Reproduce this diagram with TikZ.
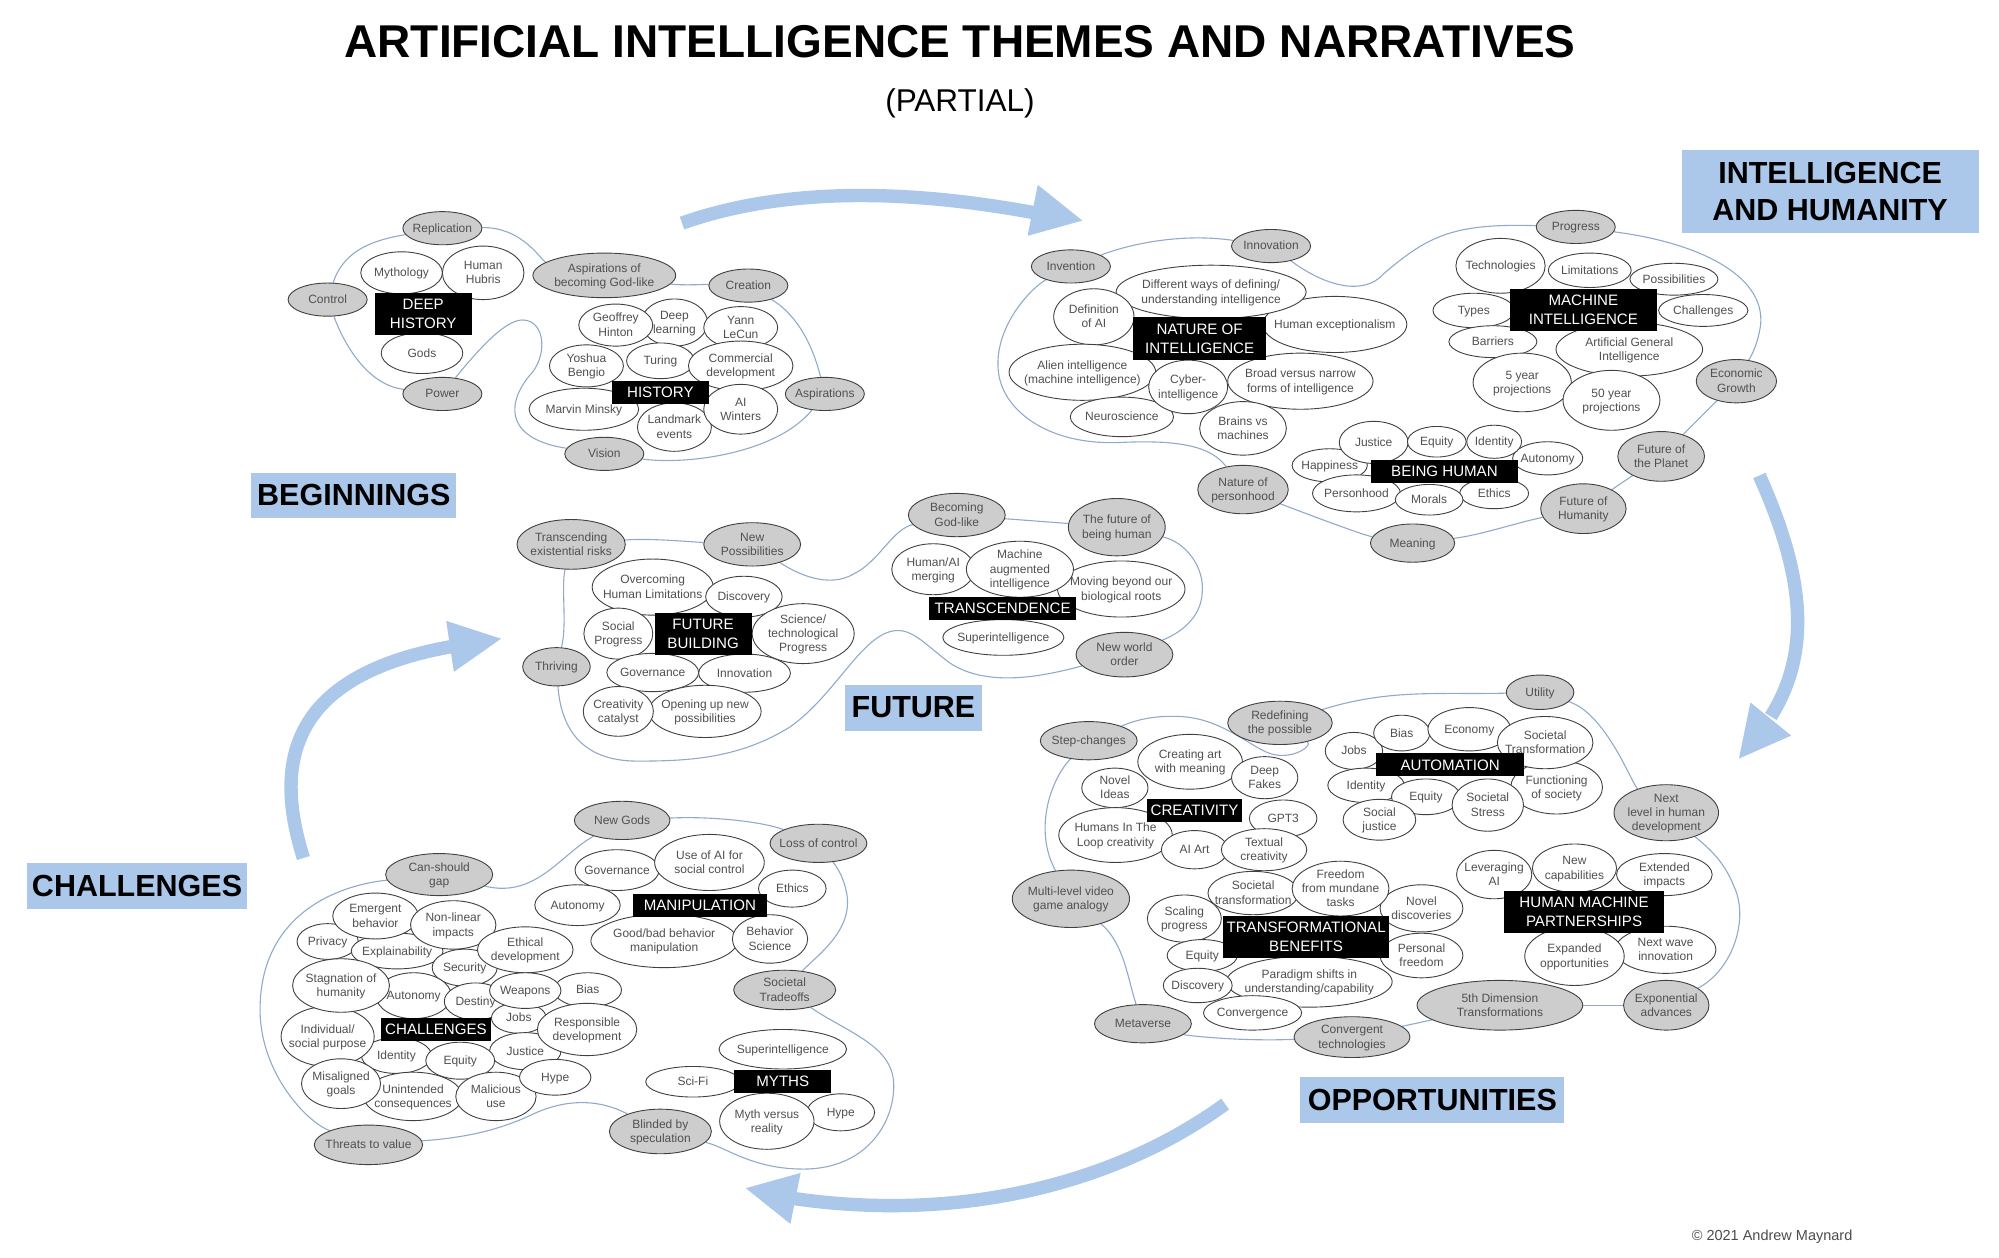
\documentclass[tikz,border=0pt]{standalone}
\usepackage{fontspec}
\setmainfont{Liberation Sans}
\usetikzlibrary{shapes.geometric,backgrounds}

\definecolor{bandblue}{HTML}{ABC7E9}
\definecolor{lineblue}{HTML}{8FAACB}
\definecolor{bubgray}{HTML}{CDCDCD}
\definecolor{txtgray}{HTML}{505050}

\newcommand{\tx}[1]{\makebox[0pt]{\raisebox{-.34em}[0pt][0pt]{\begin{tabular}{@{}c@{}}#1\end{tabular}}}}

\tikzset{
    topic/.style 2 args={ellipse,draw=black!75,fill=white,line width=0.9pt,inner sep=0pt,text=txtgray,
        minimum width=#1*1.275pt,minimum height=#2*1.275pt,font=\fontsize{12}{14.3}\selectfont},
    theme/.style 2 args={topic={#1}{#2},fill=bubgray},
    head/.style 2 args={rectangle,fill=black,text=white,inner sep=0pt,align=center,
        minimum width=#1*1.275pt,minimum height=#2*1.275pt,font=\fontsize{15.1}{19}\selectfont},
    band/.style 2 args={rectangle,fill=bandblue,text=black,inner sep=0pt,align=center,
        minimum width=#1*1.275pt,minimum height=#2*1.275pt,font=\fontsize{30.5}{37}\selectfont\bfseries},
    blob/.style={draw=lineblue,line width=1.1pt},
    bigarrow/.style={draw=bandblue,line width=13.4pt},
    bighead/.style={fill=bandblue}
}

\begin{document}
\begin{tikzpicture}[x=1.275pt,y=-1.275pt]
    \useasboundingbox (0,0) rectangle (1568,986);

    \node[font=\fontsize{46}{54}\selectfont\bfseries] (title) at (753,33) {ARTIFICIAL INTELLIGENCE THEMES AND NARRATIVES};
    \node[font=\fontsize{31.5}{36}\selectfont] (partial) at (753,81) {(PARTIAL)};
    \node[text=black!70,font=\fontsize{14.5}{17}\selectfont] (copyright) at (1390,970) {© 2021 Andrew Maynard};

    \draw[bigarrow] (535,175) .. controls (620,145) and (720,150) .. (812,167);
    \fill[bighead] (849,173) -- (814,145) -- (806,185) -- cycle;
    \draw[bigarrow] (1380,373) .. controls (1410,440) and (1425,505) .. (1389,562);
    \fill[bighead] (1364,595) -- (1373,551) -- (1405,577) -- cycle;
    \draw[bigarrow] (961,866) .. controls (880,925) and (760,960) .. (622,940);
    \fill[bighead] (585,932) -- (628,920) -- (620,960) -- cycle;
    \draw[bigarrow] (238,673) .. controls (215,600) and (225,530) .. (355,507);
    \fill[bighead] (393,501) -- (350,487) -- (356,527) -- cycle;

    \node[band={161}{35}] (beginnings) at (277.5,388.5) {BEGINNINGS};
    \node[band={233}{65}] (humanity) at (1435.5,150.5) {INTELLIGENCE\\AND HUMANITY};
    \node[band={107}{36}] (future) at (716.5,555) {FUTURE};
    \node[band={207}{36}] (opportunities) at (1123.5,863) {OPPORTUNITIES};
    \node[band={173}{36}] (challenges) at (107.5,695) {CHALLENGES};

    \node[theme={62}{26}] (replication) at (347,179) {\tx{Replication}};
    \node[theme={62}{26}] (control) at (257,235) {\tx{Control}};
    \node[theme={62}{26}] (power) at (347,309) {\tx{Power}};
    \node[theme={112}{35}] (godlike) at (474,216) {\tx{Aspirations of\\becoming God-like}};
    \node[theme={62}{26}] (creation) at (587,224) {\tx{Creation}};
    \node[theme={62}{26}] (aspirations) at (647,309) {\tx{Aspirations}};
    \node[theme={62}{26}] (vision) at (474,356) {\tx{Vision}};
    \node[topic={64}{33}] (mythology) at (315,214) {\tx{Mythology}};
    \node[topic={64}{42}] (hubris) at (379,214) {\tx{Human\\Hubris}};
    \node[topic={64}{32}] (gods) at (331,277) {\tx{Gods}};
    \node[topic={52}{37}] (deeplearning) at (529,253) {\tx{Deep\\learning}};
    \node[topic={58}{33}] (hinton) at (483,255) {\tx{Geoffrey\\Hinton}};
    \node[topic={58}{33}] (lecun) at (581,257) {\tx{Yann\\LeCun}};
    \node[topic={53}{28}] (turing) at (518,283) {\tx{Turing}};
    \node[topic={58}{33}] (bengio) at (460,287) {\tx{Yoshua\\Bengio}};
    \node[topic={82}{39}] (commercial) at (581,287) {\tx{Commercial\\development}};
    \node[topic={86}{33}] (minsky) at (458,321) {\tx{Marvin Minsky}};
    \node[topic={58}{38}] (landmark) at (529,335) {\tx{Landmark\\events}};
    \node[topic={58}{39}] (winters) at (581,321) {\tx{AI\\Winters}};
    \node[head={76}{33}] (deephistory) at (332,246) {DEEP\\HISTORY};
    \node[head={76}{18}] (history) at (518,308) {HISTORY};

    \node[theme={62}{26}] (invention) at (840,209) {\tx{Invention}};
    \node[theme={62}{26}] (innovationa) at (997,193) {\tx{Innovation}};
    \node[theme={71}{38}] (personhood) at (975,384) {\tx{Nature of\\personhood}};
    \node[topic={113}{44}] (exceptionalism) at (1047,254.5) {\tx{Human exceptionalism}};
    \node[topic={149}{42}] (waysdefining) at (950,229) {\tx{Different ways of defining/\\understanding intelligence}};
    \node[topic={63}{44}] (definition) at (858,248.5) {\tx{Definition\\of AI}};
    \node[topic={115}{44}] (alien) at (849,292) {\tx{Alien intelligence\\(machine intelligence)}};
    \node[topic={81}{31}] (neuroscience) at (880,327) {\tx{Neuroscience}};
    \node[topic={62}{42}] (cyber) at (932,303.5) {\tx{Cyber-\\intelligence}};
    \node[topic={114}{44}] (broad) at (1020,299) {\tx{Broad versus narrow\\forms of intelligence}};
    \node[topic={68}{42}] (brains) at (975,336) {\tx{Brains vs\\machines}};
    \node[head={104}{33}] (nature) at (941,265.5) {NATURE OF\\INTELLIGENCE};

    \node[theme={62}{26}] (progress) at (1236,178) {\tx{Progress}};
    \node[theme={63}{34}] (economic) at (1362,299) {\tx{Economic\\Growth}};
    \node[theme={68}{39}] (planet) at (1303,358) {\tx{Future of\\the Planet}};
    \node[theme={67}{39}] (futurehumanity) at (1242,399) {\tx{Future of\\Humanity}};
    \node[theme={66}{30}] (meaning) at (1108,426) {\tx{Meaning}};
    \node[topic={70}{43}] (technologies) at (1177,208.5) {\tx{Technologies}};
    \node[topic={69}{25}] (possibilities) at (1313,219) {\tx{Possibilities}};
    \node[topic={65}{27}] (limitations) at (1247,212) {\tx{Limitations}};
    \node[topic={64}{27}] (types) at (1156,243.5) {\tx{Types}};
    \node[topic={70}{25}] (mchallenges) at (1336,243.5) {\tx{Challenges}};
    \node[topic={115}{42}] (agi) at (1278,274) {\tx{Artificial General\\Intelligence}};
    \node[topic={69}{25}] (barriers) at (1171,268) {\tx{Barriers}};
    \node[topic={77}{46}] (fiveyear) at (1194,300) {\tx{5 year\\projections}};
    \node[topic={76}{47}] (fiftyyear) at (1264,314) {\tx{50 year\\projections}};
    \node[head={115}{33}] (machine) at (1242,243) {MACHINE\\INTELLIGENCE};

    \node[topic={55}{26}] (autonomya) at (1214,359.5) {\tx{Autonomy}};
    \node[topic={59}{26}] (happiness) at (1043,365) {\tx{Happiness}};
    \node[topic={54}{33}] (justicea) at (1077.5,347) {\tx{Justice}};
    \node[topic={46}{24}] (equitya) at (1127,346.5) {\tx{Equity}};
    \node[topic={43}{26}] (identitya) at (1172,346.5) {\tx{Identity}};
    \node[topic={69}{29}] (personhooda) at (1064,387) {\tx{Personhood}};
    \node[topic={54}{24}] (ethicsa) at (1172,387) {\tx{Ethics}};
    \node[topic={53}{24}] (morals) at (1121,392) {\tx{Morals}};
    \node[head={115}{18}] (beinghuman) at (1133,369.5) {BEING HUMAN};

    \node[theme={85}{39}] (transcending) at (448,427) {\tx{Transcending\\existential risks}};
    \node[theme={76}{34}] (newposs) at (590,427) {\tx{New\\Possibilities}};
    \node[theme={53}{30}] (thriving) at (436.5,523) {\tx{Thriving}};
    \node[theme={76}{34}] (becoming) at (750.5,404) {\tx{Becoming\\God-like}};
    \node[theme={76}{45}] (futurehuman) at (876,413.5) {\tx{The future of\\being human}};
    \node[theme={76}{35}] (newworld) at (882,513.5) {\tx{New world\\order}};
    \node[topic={95}{44}] (overcoming) at (512,460.5) {\tx{Overcoming\\Human Limitations}};
    \node[topic={60}{32}] (discovery) at (583.5,468) {\tx{Discovery}};
    \node[topic={54}{40}] (social) at (485,497) {\tx{Social\\Progress}};
    \node[topic={80}{47}] (science) at (630,497) {\tx{Science/\\technological\\Progress}};
    \node[topic={72}{30}] (governancea) at (512,527.5) {\tx{Governance}};
    \node[topic={72}{30}] (innovationb) at (584,528) {\tx{Innovation}};
    \node[topic={88}{41}] (opening) at (553,558) {\tx{Opening up new\\possibilities}};
    \node[topic={55}{39}] (catalyst) at (485,558) {\tx{Creativity\\catalyst}};
    \node[head={76}{33}] (futurebuilding) at (551.5,497) {FUTURE\\BUILDING};
    \node[topic={100}{44}] (moving) at (879.5,462) {\tx{Moving beyond our\\biological roots}};
    \node[topic={65}{40}] (merging) at (732,446.5) {\tx{Human/AI\\merging}};
    \node[topic={84}{44}] (augmented) at (800,446.5) {\tx{Machine\\augmented\\intelligence}};
    \node[topic={95}{28}] (superintela) at (787,500) {\tx{Superintelligence}};
    \node[head={115}{18}] (transcendence) at (786.5,477) {TRANSCENDENCE};

    \node[theme={53}{27}] (utility) at (1208,543) {\tx{Utility}};
    \node[theme={82}{34}] (redefining) at (1004,567) {\tx{Redefining\\the possible}};
    \node[theme={76}{30}] (stepchanges) at (854,581) {\tx{Step-changes}};
    \node[theme={82}{44}] (nextlevel) at (1307,637.5) {\tx{Next\\level in human\\development}};
    \node[theme={92}{45}] (multilevel) at (840,705) {\tx{Multi-level video\\game analogy}};
    \node[theme={76}{30}] (metaverse) at (896.5,803) {\tx{Metaverse}};
    \node[theme={91}{32}] (convergent) at (1060.5,813.5) {\tx{Convergent\\technologies}};
    \node[theme={130}{39}] (fifthdim) at (1176.5,788.5) {\tx{5th Dimension\\Transformations}};
    \node[theme={67}{39}] (exponential) at (1307,788.5) {\tx{Exponential\\advances}};
    \node[topic={82}{43}] (creatingart) at (933.5,597.5) {\tx{Creating art\\with meaning}};
    \node[topic={52}{33}] (deepfakes) at (992,610) {\tx{Deep\\Fakes}};
    \node[topic={52}{31}] (novelideas) at (874.5,618) {\tx{Novel\\Ideas}};
    \node[topic={53}{29}] (gpt) at (1006.5,642) {\tx{GPT3}};
    \node[topic={89}{43}] (humansloop) at (875,655) {\tx{Humans In The\\Loop creativity}};
    \node[topic={52}{30}] (aiart) at (937,666.5) {\tx{AI Art}};
    \node[topic={67}{33}] (textual) at (991.5,666.5) {\tx{Textual\\creativity}};
    \node[head={75}{18}] (creativity) at (937,635.5) {CREATIVITY};

    \node[topic={45}{29}] (jobsa) at (1062,589) {\tx{Jobs}};
    \node[topic={44}{28}] (biasa) at (1099.5,575) {\tx{Bias}};
    \node[topic={65}{34}] (economy) at (1152.5,572) {\tx{Economy}};
    \node[topic={72}{42}] (functioning) at (1221,617.5) {\tx{Functioning\\of society}};
    \node[topic={75}{41}] (societaltrans) at (1212,582.5) {\tx{Societal\\Transformation}};
    \node[topic={60}{27}] (identityb) at (1071.5,616) {\tx{Identity}};
    \node[topic={54}{28}] (equityb) at (1118.5,625) {\tx{Equity}};
    \node[topic={56}{41}] (stress) at (1167,631.5) {\tx{Societal\\Stress}};
    \node[topic={57}{32}] (socialjustice) at (1082,643) {\tx{Social\\justice}};
    \node[head={116}{18}] (automation) at (1137.5,600) {AUTOMATION};

    \node[topic={59}{38}] (leveraging) at (1172,686) {\tx{Leveraging\\AI}};
    \node[topic={75}{33}] (extended) at (1305.5,686) {\tx{Extended\\impacts}};
    \node[topic={66}{38}] (newcap) at (1235,681) {\tx{New\\capabilities}};
    \node[topic={79}{37}] (nextwave) at (1306.5,745) {\tx{Next wave\\innovation}};
    \node[topic={78}{46}] (expanded) at (1235,750) {\tx{Expanded\\opportunities}};
    \node[head={125}{33}] (partnerships) at (1242.5,715.5) {HUMAN MACHINE\\PARTNERSHIPS};

    \node[topic={71}{34}] (societalb) at (983,700.5) {\tx{Societal\\transformation}};
    \node[topic={65}{37}] (noveldisc) at (1115,712.5) {\tx{Novel\\discoveries}};
    \node[topic={76}{43}] (freedom) at (1051.5,697) {\tx{Freedom\\from mundane\\tasks}};
    \node[topic={58}{37}] (scaling) at (929,720.5) {\tx{Scaling\\progress}};
    \node[topic={65}{35}] (personal) at (1115,749.5) {\tx{Personal\\freedom}};
    \node[topic={55}{25}] (equityc) at (943,749.5) {\tx{Equity}};
    \node[topic={130}{40}] (paradigm) at (1027,770) {\tx{Paradigm shifts in\\understanding/capability}};
    \node[topic={54}{27}] (discoveryb) at (939.5,773) {\tx{Discovery}};
    \node[topic={77}{27}] (convergence) at (982.5,794.5) {\tx{Convergence}};
    \node[head={130}{33}] (transformational) at (1024.5,735) {TRANSFORMATIONAL\\BENEFITS};

    \node[theme={75}{30}] (newgods) at (488,643.5) {\tx{New Gods}};
    \node[theme={76}{30}] (losscontrol) at (642,661.5) {\tx{Loss of control}};
    \node[theme={84}{33}] (cangap) at (344.5,686) {\tx{Can-should\\gap}};
    \node[theme={80}{31}] (tradeoffs) at (615.5,776.5) {\tx{Societal\\Tradeoffs}};
    \node[theme={80}{35}] (blinded) at (518,887.5) {\tx{Blinded by\\speculation}};
    \node[theme={85}{31}] (threats) at (289,898) {\tx{Threats to value}};
    \node[topic={66}{32}] (governanceb) at (484,682.5) {\tx{Governance}};
    \node[topic={86}{44}] (useofai) at (556.5,676.5) {\tx{Use of AI for\\social control}};
    \node[topic={53}{29}] (ethicsb) at (621.5,697) {\tx{Ethics}};
    \node[topic={67}{32}] (autonomyb) at (453,710) {\tx{Autonomy}};
    \node[topic={115}{42}] (goodbad) at (521,738) {\tx{Good/bad behavior\\manipulation}};
    \node[topic={59}{38}] (behavior) at (604,736.5) {\tx{Behavior\\Science}};
    \node[head={105}{18}] (manipulation) at (549,710) {MANIPULATION};

    \node[topic={100}{31}] (superintelb) at (614,823) {\tx{Superintelligence}};
    \node[topic={74}{24}] (scifi) at (543.5,848.5) {\tx{Sci-Fi}};
    \node[topic={53}{29}] (hypeb) at (659.5,872.5) {\tx{Hype}};
    \node[topic={74}{44}] (mythversus) at (601.5,879.5) {\tx{Myth versus\\reality}};
    \node[head={76}{18}] (myths) at (614,848.5) {MYTHS};

    \node[topic={48}{28}] (privacy) at (257,738.5) {\tx{Privacy}};
    \node[topic={72}{28}] (explainability) at (311.5,746) {\tx{Explainability}};
    \node[topic={67}{36}] (emergent) at (294.5,718.5) {\tx{Emergent\\behavior}};
    \node[topic={51}{29}] (security) at (364.5,759) {\tx{Security}};
    \node[topic={67}{38}] (nonlinear) at (355.5,725.5) {\tx{Non-linear\\impacts}};
    \node[topic={75}{36}] (ethical) at (412,745) {\tx{Ethical\\development}};
    \node[topic={55}{28}] (identityc) at (311,828) {\tx{Identity}};
    \node[topic={73}{47}] (individual) at (257,813) {\tx{Individual/\\social purpose}};
    \node[topic={59}{36}] (autonomyc) at (324.5,781) {\tx{Autonomy}};
    \node[topic={76}{42}] (stagnation) at (267.5,773) {\tx{Stagnation of\\humanity}};
    \node[topic={53}{27}] (biasb) at (461,776.5) {\tx{Bias}};
    \node[topic={49}{29}] (destiny) at (373,785.5) {\tx{Destiny}};
    \node[topic={43}{24}] (jobsb) at (407,798.5) {\tx{Jobs}};
    \node[topic={56}{28}] (weapons) at (412,777) {\tx{Weapons}};
    \node[topic={56}{29}] (justiceb) at (412,824.5) {\tx{Justice}};
    \node[topic={78}{41}] (responsible) at (460.5,807.5) {\tx{Responsible\\development}};
    \node[topic={54}{29}] (equityd) at (361,832) {\tx{Equity}};
    \node[topic={77}{38}] (unintended) at (324,860) {\tx{Unintended\\consequences}};
    \node[topic={62}{39}] (misaligned) at (267.5,850) {\tx{Misaligned\\goals}};
    \node[topic={63}{38}] (malicious) at (389,860) {\tx{Malicious\\use}};
    \node[topic={56}{28}] (hypea) at (435.5,845) {\tx{Hype}};
    \node[head={86}{18}] (challengesbox) at (342,807.5) {CHALLENGES};

    \begin{pgfonlayer}{background}
    \draw[blob] (replication) .. controls (295,188) and (270,195) .. (control);
    \draw[blob] (control) .. controls (270,270) and (288,302) .. (power);
    \draw[blob] (power) .. controls (385,262) and (400,251) .. (410,251) .. controls (428,251) and (430,280) .. (415,295) .. controls (395,320) and (400,345) .. (vision);
    \draw[blob] (vision) .. controls (540,365) and (610,355) .. (aspirations);
    \draw[blob] (aspirations) .. controls (636,265) and (622,245) .. (creation);
    \draw[blob] (creation) .. controls (556,223) and (535,224) .. (godlike);
    \draw[blob] (godlike) .. controls (425,205) and (410,178) .. (replication);

    \draw[blob] (invention) .. controls (890,190) and (930,183) .. (innovationa);
    \draw[blob] (innovationa) .. controls (1040,225) and (1070,232) .. (1085,215) .. controls (1120,185) and (1140,175) .. (progress);
    \draw[blob] (progress) .. controls (1330,190) and (1385,215) .. (1381,255) .. controls (1378,275) and (1370,285) .. (economic);
    \draw[blob] (economic) -- (planet);
    \draw[blob] (planet) -- (futurehumanity);
    \draw[blob] (futurehumanity) .. controls (1190,410) and (1160,420) .. (meaning);
    \draw[blob] (meaning) .. controls (1070,420) and (1030,405) .. (personhood);
    \draw[blob] (personhood) .. controls (950,350) and (925,345) .. (880,347) .. controls (820,350) and (785,320) .. (783,290) .. controls (780,255) and (810,225) .. (invention);

    \draw[blob] (transcending) .. controls (510,422) and (540,425) .. (newposs);
    \draw[blob] (newposs) .. controls (625,450) and (650,462) .. (670,450) .. controls (690,440) and (700,415) .. (becoming);
    \draw[blob] (becoming) -- (futurehuman);
    \draw[blob] (futurehuman) .. controls (930,425) and (945,445) .. (943,465) .. controls (942,485) and (925,497) .. (newworld);
    \draw[blob] (newworld) .. controls (820,530) and (775,540) .. (745,520) .. controls (725,505) and (715,492) .. (700,495) .. controls (675,500) and (655,545) .. (620,570) .. controls (580,595) and (540,597) .. (500,597) .. controls (455,597) and (440,570) .. (thriving);
    \draw[blob] (thriving) .. controls (445,490) and (440,460) .. (transcending);

    \draw[blob] (utility) .. controls (1130,545) and (1090,540) .. (redefining);
    \draw[blob] (redefining) .. controls (1030,585) and (1015,595) .. (1000,592) .. controls (985,590) and (960,563) .. (925,562) .. controls (905,561) and (890,565) .. (stepchanges);
    \draw[blob] (stepchanges) .. controls (825,610) and (810,650) .. (multilevel);
    \draw[blob] (multilevel) .. controls (882,740) and (885,770) .. (metaverse);
    \draw[blob] (metaverse) .. controls (930,812) and (970,817) .. (convergent);
    \draw[blob] (convergent) -- (fifthdim);
    \draw[blob] (fifthdim) -- (exponential);
    \draw[blob] (exponential) .. controls (1360,760) and (1372,720) .. (1360,695) .. controls (1352,675) and (1340,665) .. (nextlevel);
    \draw[blob] (nextlevel) .. controls (1280,615) and (1260,560) .. (utility);

    \draw[blob] (newgods) .. controls (440,670) and (420,705) .. (cangap);
    \draw[blob] (cangap) .. controls (260,695) and (205,720) .. (204,790) .. controls (203,840) and (240,880) .. (threats);
    \draw[blob] (threats) .. controls (370,892) and (395,885) .. (420,873) .. controls (445,862) and (470,862) .. (blinded);
    \draw[blob] (blinded) .. controls (570,900) and (590,917) .. (630,917) .. controls (680,917) and (702,880) .. (701,850) .. controls (700,820) and (665,810) .. (tradeoffs);
    \draw[blob] (tradeoffs) .. controls (640,750) and (670,730) .. (664,700) .. controls (662,690) and (658,682) .. (losscontrol);
    \draw[blob] (losscontrol) .. controls (600,645) and (560,640) .. (newgods);
    \end{pgfonlayer}
\end{tikzpicture}
\end{document}
